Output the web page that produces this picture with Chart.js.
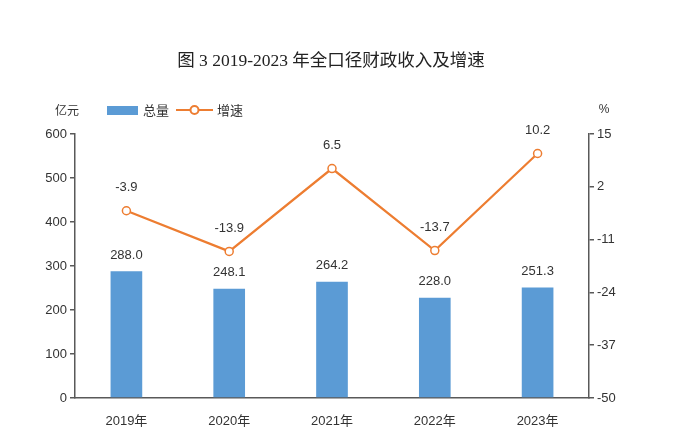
<!DOCTYPE html>
<html>
<head>
<meta charset="utf-8">
<script src="https://cdn.jsdelivr.net/npm/chart.js@4/dist/chart.umd.min.js"></script>
<style>
  html, body { margin: 0; padding: 0; background: #fff; }
  #wrap { width: 673px; height: 448px; }
</style>
</head>
<body>
<div id="wrap"><canvas id="revenueChart" width="673" height="448"></canvas></div>
<script>
// chart values
const years = ['2019年', '2020年', '2021年', '2022年', '2023年'];
const totals = [288.0, 248.1, 264.2, 228.0, 251.3];   // 总量, 亿元
const growth = [-3.9, -13.9, 6.5, -13.7, 10.2];      // 增速, %

const titleText = '图 3 2019-2023 年全口径财政收入及增速';
const BAR_COLOR = '#5b9bd5';
const LINE_COLOR = '#ed7d31';
const AXIS_COLOR = '#595959';
const TEXT_COLOR = '#333333';
const CJK = '"Noto Sans CJK SC", sans-serif';
const NUM = '"Liberation Sans", "Noto Sans CJK SC", sans-serif';

// draws the title, legend, unit labels and value labels
const annotations = {
  id: 'annotations',
  afterDatasetsDraw(chart) {
    const ctx = chart.ctx;
    ctx.save();
    ctx.textBaseline = 'middle';

    // title
    ctx.fillStyle = '#222';
    ctx.textAlign = 'center';
    ctx.font = '17.5px "Liberation Serif", "Noto Sans CJK SC", serif';
    ctx.fillText(titleText, 331, 61);

    // unit labels
    ctx.fillStyle = TEXT_COLOR;
    ctx.font = '12px ' + CJK;
    ctx.fillText('亿元', 67, 110);
    ctx.font = '12px ' + NUM;
    ctx.fillText('%', 604, 110);

    // legend
    ctx.fillStyle = BAR_COLOR;
    ctx.fillRect(107, 106, 31, 9);
    ctx.fillStyle = TEXT_COLOR;
    ctx.textAlign = 'left';
    ctx.font = '13px ' + CJK;
    ctx.fillText('总量', 143, 110);
    ctx.strokeStyle = LINE_COLOR;
    ctx.lineWidth = 2;
    ctx.beginPath();
    ctx.moveTo(176, 110);
    ctx.lineTo(213, 110);
    ctx.stroke();
    ctx.beginPath();
    ctx.arc(194.5, 110, 4, 0, Math.PI * 2);
    ctx.fillStyle = '#fff';
    ctx.fill();
    ctx.stroke();
    ctx.fillStyle = TEXT_COLOR;
    ctx.fillText('增速', 217, 110);

    // value labels
    ctx.textAlign = 'center';
    ctx.font = '13px ' + NUM;
    chart.data.datasets.forEach((ds, i) => {
      const meta = chart.getDatasetMeta(i);
      meta.data.forEach((el, j) => {
        const offset = ds.type === 'line' ? 23 : 16;
        ctx.fillText(ds.data[j].toFixed(1), el.x, el.y - offset);
      });
    });
    ctx.restore();
  }
};

new Chart(document.getElementById('revenueChart'), {
  data: {
    labels: years,
    datasets: [
      {
        type: 'line',
        label: '增速',
        data: growth,
        yAxisID: 'yRight',
        borderColor: LINE_COLOR,
        borderWidth: 2.2,
        pointRadius: 4,
        pointBorderWidth: 1.5,
        pointBackgroundColor: '#fff',
        pointBorderColor: LINE_COLOR,
        tension: 0
      },
      {
        type: 'bar',
        label: '总量',
        data: totals,
        yAxisID: 'yLeft',
        backgroundColor: BAR_COLOR,
        categoryPercentage: 0.8,
        barPercentage: 0.385
      }
    ]
  },
  options: {
    responsive: false,
    animation: false,
    layout: { padding: { top: 134, right: 34, left: 0, bottom: 0 } },
    plugins: {
      legend: { display: false },
      title: { display: false },
      tooltip: { enabled: false }
    },
    scales: {
      x: {
        afterFit: s => { s.height = 50; },
        grid: { display: false },
        border: { display: true, color: AXIS_COLOR, width: 1.5 },
        ticks: { color: TEXT_COLOR, font: { family: NUM, size: 13 }, padding: 8 }
      },
      yLeft: {
        position: 'left',
        min: 0,
        max: 600,
        afterFit: s => { s.width = 75; },
        grid: { drawOnChartArea: false, tickLength: 5, color: AXIS_COLOR, lineWidth: 1.5 },
        border: { display: true, color: AXIS_COLOR, width: 1.5 },
        ticks: { stepSize: 100, color: TEXT_COLOR, font: { family: NUM, size: 13 }, padding: 3 }
      },
      yRight: {
        position: 'right',
        min: -50,
        max: 15,
        afterFit: s => { s.width = 50; },
        grid: { drawOnChartArea: false, tickLength: 5, color: AXIS_COLOR, lineWidth: 1.5 },
        border: { display: true, color: AXIS_COLOR, width: 1.5 },
        ticks: { stepSize: 13, color: TEXT_COLOR, font: { family: NUM, size: 13 }, padding: 3 }
      }
    }
  },
  plugins: [annotations]
});
</script>
</body>
</html>
